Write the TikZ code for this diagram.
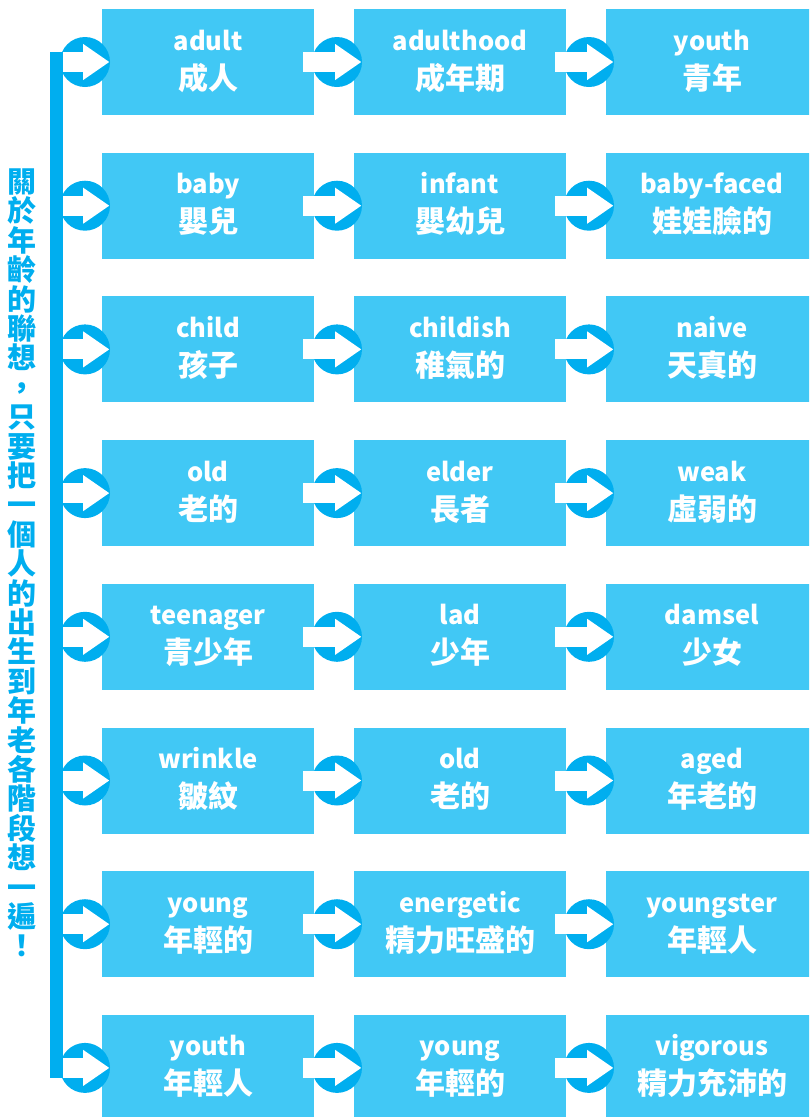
\documentclass[tikz,border=0pt]{standalone}
\usepackage{fontspec}
\setmainfont{Noto Sans}
\newfontfamily\cjk{Noto Sans CJK TC}
\usetikzlibrary{arrows.meta}

\definecolor{boxblue}{HTML}{41C8F5}
\definecolor{ringblue}{HTML}{00AEEF}

\newcommand{\agebox}[5]{%
  \node[box] (#1) at (#2,#3) {};
  \node[entext] (#1-en) at ([yshift=12pt]#1.center) {#4};
  \node[zhtext] (#1-zh) at ([yshift=-27pt]#1.center) {#5};
}

\begin{document}
\begin{tikzpicture}[x=1pt, y=-1pt,
        box/.style={fill=boxblue, minimum width=212pt, minimum height=106pt, inner sep=0pt},
        entext/.style={anchor=base, text=white, inner sep=0pt, font=\fontsize{25.5}{25.5}\selectfont\cjk\bfseries},
        zhtext/.style={anchor=base, text=white, inner sep=0pt, font=\fontsize{30}{30}\selectfont\cjk\bfseries},
        sidetext/.style={text=ringblue, inner sep=0pt, text height=25.5pt, text depth=3.5pt,
            font=\fontsize{29}{29}\selectfont\cjk\bfseries},
        ring/.style={circle, fill=ringblue, minimum size=50pt, inner sep=0pt},
        link/.style={white, line width=20pt, -{Triangle[length=26pt, width=36pt, line width=0pt]}}]
    \useasboundingbox (0,0) rectangle (809,1117);
    \clip (0,0) rectangle (809,1117);

    \agebox{b-1-1}{208}{62}{adult}{成人}
    \agebox{b-1-2}{460}{62}{adulthood}{成年期}
    \agebox{b-1-3}{712}{62}{youth}{青年}

    \agebox{b-2-1}{208}{205.7}{baby}{嬰兒}
    \agebox{b-2-2}{460}{205.7}{infant}{嬰幼兒}
    \agebox{b-2-3}{712}{205.7}{baby-faced}{娃娃臉的}

    \agebox{b-3-1}{208}{349.4}{child}{孩子}
    \agebox{b-3-2}{460}{349.4}{childish}{稚氣的}
    \agebox{b-3-3}{712}{349.4}{naive}{天真的}

    \agebox{b-4-1}{208}{493.1}{old}{老的}
    \agebox{b-4-2}{460}{493.1}{elder}{長者}
    \agebox{b-4-3}{712}{493.1}{weak}{虛弱的}

    \agebox{b-5-1}{208}{636.8}{teenager}{青少年}
    \agebox{b-5-2}{460}{636.8}{lad}{少年}
    \agebox{b-5-3}{712}{636.8}{damsel}{少女}

    \agebox{b-6-1}{208}{780.5}{wrinkle}{皺紋}
    \agebox{b-6-2}{460}{780.5}{old}{老的}
    \agebox{b-6-3}{712}{780.5}{aged}{年老的}

    \agebox{b-7-1}{208}{924.2}{young}{年輕的}
    \agebox{b-7-2}{460}{924.2}{energetic}{精力旺盛的}
    \agebox{b-7-3}{712}{924.2}{youngster}{年輕人}

    \agebox{b-8-1}{208}{1067.9}{youth}{年輕人}
    \agebox{b-8-2}{460}{1067.9}{young}{年輕的}
    \agebox{b-8-3}{712}{1067.9}{vigorous}{精力充沛的}

    \coordinate (bar-top) at (56.5,52);
    \coordinate (bar-bottom) at (56.5,1077.9);
    \draw[ringblue, line width=13pt] (bar-top) -- (bar-bottom);

    \foreach \r/\y in {1/62, 2/205.7, 3/349.4, 4/493.1, 5/636.8, 6/780.5, 7/924.2, 8/1067.9} {
        \node[ring] (c-\r-1) at (85,\y) {};
        \node[ring] (c-\r-2) at (337,\y) {};
        \node[ring] (c-\r-3) at (589,\y) {};
        \coordinate (s-\r) at (63,\y);
        \draw[link] (s-\r) -- ([xshift=-1pt]c-\r-1.east);
        \draw[link] ([xshift=-11pt]b-\r-1.east) -- ([xshift=-1pt]c-\r-2.east);
        \draw[link] ([xshift=-11pt]b-\r-2.east) -- ([xshift=-1pt]c-\r-3.east);
    }

    \foreach \ch [count=\i from 0] in {關,於,年,齡,的,聯,想,，,只,要,把,一,個,人,的,出,生,到,年,老,各,階,段,想,一,遍,！}
        \node[sidetext] (v-\i) at (21.5,181.5+29.4*\i) {\ch};
\end{tikzpicture}
\end{document}
